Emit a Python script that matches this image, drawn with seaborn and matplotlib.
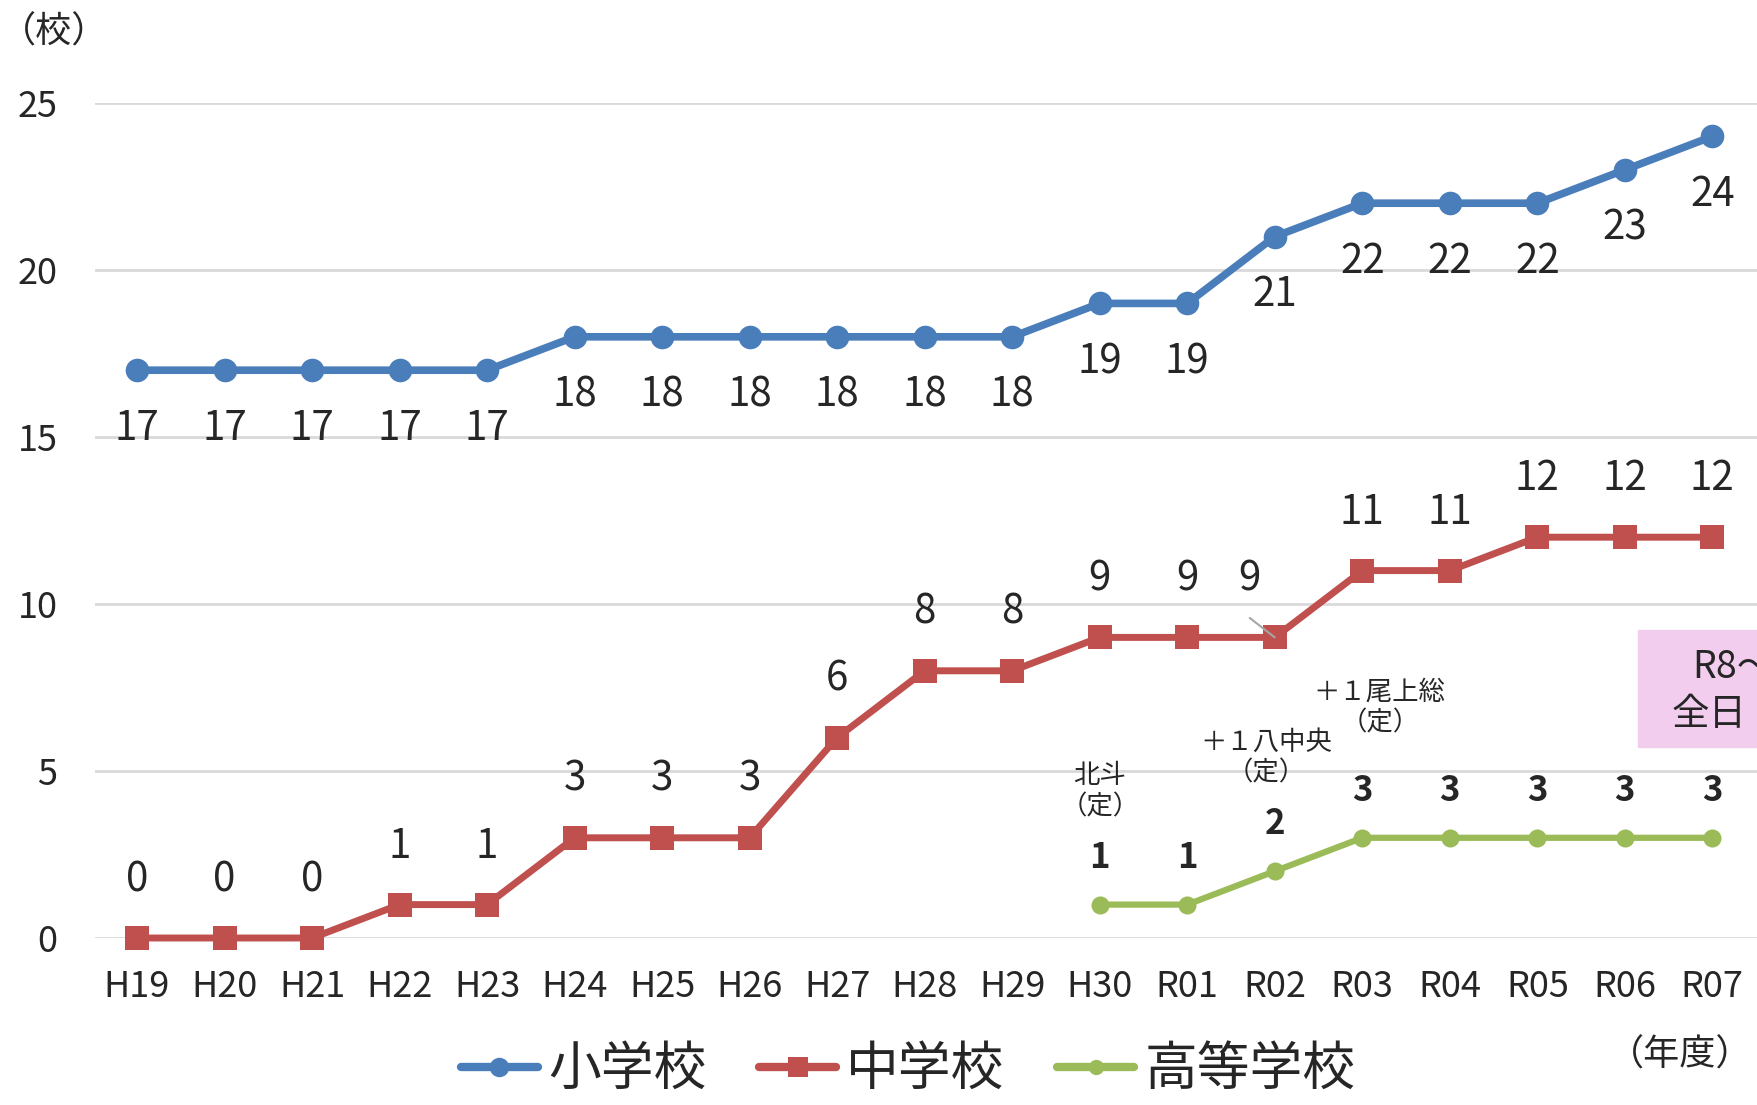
import numpy as np
import pandas as pd
import seaborn as sns
import matplotlib.pyplot as plt
from matplotlib.lines import Line2D
from matplotlib.patches import Rectangle

# data
years = ['H19', 'H20', 'H21', 'H22', 'H23', 'H24', 'H25', 'H26', 'H27', 'H28',
         'H29', 'H30', 'R01', 'R02', 'R03', 'R04', 'R05', 'R06', 'R07']
elementary = [17, 17, 17, 17, 17, 18, 18, 18, 18, 18, 18, 19, 19, 21, 22, 22, 22, 23, 24]
junior = [0, 0, 0, 1, 1, 3, 3, 3, 6, 8, 8, 9, 9, 9, 11, 11, 12, 12, 12]
high = [np.nan] * 11 + [1, 1, 2, 3, 3, 3, 3, 3]
series_names = ['小学校', '中学校', '高等学校']
notes = ['北斗\n（定）', '＋１八中央\n（定）', '＋１尾上総\n（定）']
note_pos = [(11, 4.4), (12.9, 5.4), (14.2, 6.9)]

blue, red, green = '#4A7EBB', '#C0504D', '#9BBB59'

sns.set_style('white')
plt.rcParams['font.family'] = ['Noto Sans CJK JP', 'DejaVu Sans']

df = pd.DataFrame({'x': np.arange(len(years)), 'elem': elementary,
                   'jun': junior, 'high': high})

fig = plt.figure(figsize=(17.57, 11.05), dpi=100)
ax = fig.add_axes([95 / 1757, 1 - 938 / 1105, 1 - 95 / 1757, (938 - 103) / 1105])

sns.lineplot(data=df, x='x', y='elem', color=blue, lw=5.5, marker='o', ms=17,
             markeredgewidth=0, ax=ax, clip_on=False, zorder=3)
sns.lineplot(data=df, x='x', y='jun', color=red, lw=5, marker='s', ms=17,
             markeredgewidth=0, ax=ax, clip_on=False, zorder=3)
sns.lineplot(data=df.dropna(), x='x', y='high', color=green, lw=4.5, marker='o', ms=13,
             markeredgewidth=0, ax=ax, clip_on=False, zorder=3)

ax.set_xlim(-0.48, 18.51)
ax.set_ylim(0, 25)
ax.set_yticks(range(0, 26, 5))
ax.set_xticks(df['x'])
ax.set_xticklabels(years)
ax.tick_params(axis='both', length=0, labelsize=26)
ax.tick_params(axis='y', pad=27)
ax.tick_params(axis='x', pad=22)
ax.set_xlabel('')
ax.set_ylabel('')
for s in ax.spines.values():
    s.set_visible(False)
ax.grid(axis='y', color='#D9D9D9', lw=2)
ax.grid(axis='x', visible=False)
ax.set_axisbelow(True)

# data labels
for i, v in enumerate(elementary):
    ax.annotate(str(v), (i, v), xytext=(0, -42), textcoords='offset points',
                ha='center', va='center', fontsize=29)
for i, v in enumerate(junior):
    if years[i] == 'R02':
        ax.annotate(str(v), (i, v), xytext=(-18, 42), textcoords='offset points',
                    ha='center', va='center', fontsize=29)
        ax.annotate('', (i, v), xytext=(-18, 14), textcoords='offset points',
                    arrowprops=dict(arrowstyle='-', color='#A6A6A6', lw=1.5,
                                    shrinkA=0, shrinkB=0))
    else:
        ax.annotate(str(v), (i, v), xytext=(0, 42), textcoords='offset points',
                    ha='center', va='center', fontsize=29)
for i, v in enumerate(high):
    if not np.isnan(v):
        ax.annotate(str(int(v)), (i, v), xytext=(0, 34), textcoords='offset points',
                    ha='center', va='center', fontsize=25, fontweight='bold')

for t, (x, y) in zip(notes, note_pos):
    ax.text(x, y, t, ha='center', va='center', fontsize=19, linespacing=1.2)

# unit labels
fig.text(0, 1 - 33 / 1105, '（校）', fontsize=26, va='center', ha='left')
fig.text(1752 / 1757, 1 - 1056 / 1105, '（年度）', fontsize=26, va='center', ha='right')

# pink note box (cut off at the right edge, as in the original)
fig.patches.append(Rectangle((1638 / 1757, 1 - 747 / 1105), 0.2, 117 / 1105,
                             transform=fig.transFigure, color='#F2CDEE', zorder=5))
fig.text(1692 / 1757, 1 - 667 / 1105, 'R8～', fontsize=27, va='center', ha='left', zorder=6)
fig.text(1672 / 1757, 1 - 714 / 1105, '全日', fontsize=27, va='center', ha='left', zorder=6)

# legend
handles = [Line2D([], [], color=blue, lw=6, marker='o', ms=14, markeredgewidth=0),
           Line2D([], [], color=red, lw=6, marker='s', ms=15, markeredgewidth=0),
           Line2D([], [], color=green, lw=6, marker='o', ms=11, markeredgewidth=0)]
fig.legend(handles, series_names, loc='center', bbox_to_anchor=(0.517, 0.032), ncol=3,
           frameon=False, fontsize=38, handlelength=1.45, handletextpad=0.2,
           columnspacing=1.0)

fig.savefig('out.png', dpi=100)
